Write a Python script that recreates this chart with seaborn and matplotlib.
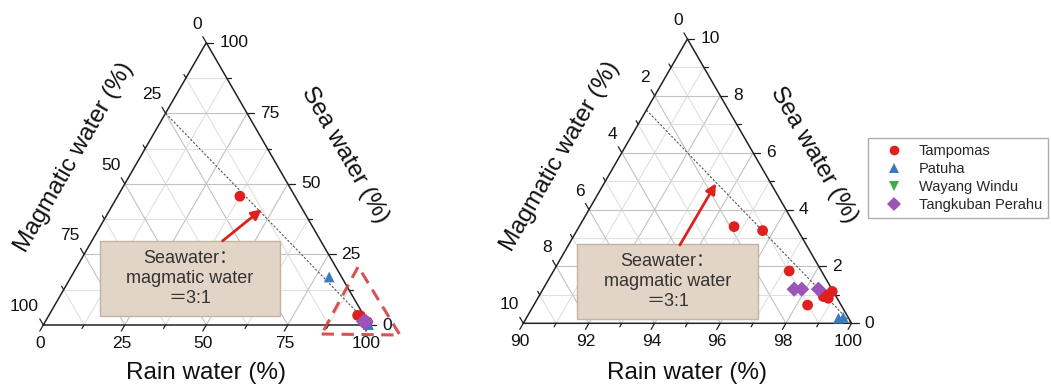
import numpy as np
import pandas as pd
import matplotlib
matplotlib.use("Agg")
import matplotlib.pyplot as plt
import seaborn as sns
from matplotlib.lines import Line2D
from matplotlib.patches import Rectangle, Polygon

sns.set_theme(style="white")
plt.rcParams["font.family"] = ["Liberation Sans", "Noto Sans CJK SC", "DejaVu Sans"]

# ---------------- data ----------------
groups = ["Tampomas", "Patuha", "Wayang Windu", "Tangkuban Perahu"]
site = (["Tampomas"] * 9 + ["Patuha"] * 3 + ["Tangkuban Perahu"] * 3)
rain_water = [37.5, 94.72, 95.66, 97.18, 98.85, 98.67, 98.85, 98.72, 98.34,
              79.2, 99.51, 99.64,
              97.65, 97.88, 98.39]
sea_water = [45.6, 3.40, 3.26, 1.84, 1.12, 0.94, 0.88, 1.00, 0.64,
             17.0, 0.18, 0.21,
             1.20, 1.20, 1.20]
magmatic_water = [16.9, 1.88, 1.08, 0.98, 0.03, 0.39, 0.27, 0.28, 1.02,
                  3.8, 0.31, 0.15,
                  1.15, 0.92, 0.41]

colors = {"Tampomas": "#e0201e", "Patuha": "#3a7bbf",
          "Wayang Windu": "#3cae46", "Tangkuban Perahu": "#9b55b8"}
markers = {"Tampomas": "o", "Patuha": "^", "Wayang Windu": "v",
           "Tangkuban Perahu": "D"}

df = pd.DataFrame({"site": site, "rain": rain_water, "sea": sea_water,
                   "magmatic": magmatic_water})

SQ = np.sqrt(3) / 2
W, H = 1051, 388
fig = plt.figure(figsize=(W / 100, H / 100), dpi=100)
PT = 0.72  # px -> points


def nxy(r, s):
    return r + s / 2.0, s * SQ


def panel(ax, r0, span, nsub, major_every, fmt_vals, titles_pos, box, arrow):
    # grid
    for i in range(1, nsub):
        f = i / nsub
        major = (i % major_every == 0)
        col = "#c2c2c2" if major else "#e0e0e0"
        segs = [((f, 0), (f, 1 - f)), ((0, f), (1 - f, f)), ((1 - f, 0), (0, 1 - f))]
        for (ra, sa), (rb, sb) in segs:
            xa, ya = nxy(ra, sa)
            xb, yb = nxy(rb, sb)
            ax.plot([xa, xb], [ya, yb], color=col, lw=0.8, zorder=1)
    # frame
    tri = np.array([nxy(0, 0), nxy(1, 0), nxy(0, 1), nxy(0, 0)])
    ax.plot(tri[:, 0], tri[:, 1], color="#222222", lw=1.1, zorder=4,
            solid_joinstyle="miter")
    # ticks and labels
    scale = 326.0
    for i in range(0, nsub + 1):
        f = i / nsub
        major = (i % major_every == 0)
        L = (7 if major else 4) / scale
        x, y = nxy(f, 0)
        ax.plot([x, x - 0.5 * L], [y, y - SQ * L], color="#222222", lw=0.9, zorder=4)
        x2, y2 = nxy(1 - f, f)
        ax.plot([x2, x2 + L], [y2, y2], color="#222222", lw=0.9, zorder=4)
        x3, y3 = nxy(0, 1 - f)
        ax.plot([x3, x3 - 0.5 * L], [y3, y3 + SQ * L], color="#222222", lw=0.9, zorder=4)
        if major:
            ax.annotate(fmt_vals(r0 + f * span), (x, y), xytext=(-3 * PT, -18 * PT),
                        textcoords="offset points", ha="center", va="center",
                        fontsize=12.5, color="#111111", annotation_clip=False)
            ax.annotate(fmt_vals(f * span), (x2, y2), xytext=(13 * PT, 0),
                        textcoords="offset points", ha="left", va="center",
                        fontsize=12.5, color="#111111", annotation_clip=False)
            ax.annotate(fmt_vals(f * span), (x3, y3), xytext=(-4.5 * PT, 18.5 * PT),
                        textcoords="offset points", ha="right", va="center",
                        fontsize=12.5, color="#111111", annotation_clip=False)
    # 3:1 line (sea : magmatic)
    xa, ya = nxy(0, 0.75)
    xb, yb = nxy(1, 0)
    ax.plot([xa, xb], [ya, yb], color="#555555", lw=0.8, ls=(0, (2, 1.6)), zorder=2)

    # data
    sub = df[(df.rain >= r0) & (df.sea <= r0 + span) & (df.magmatic <= span)].copy()
    sub["r"] = (sub.rain - r0) / span
    sub["s"] = sub.sea / span
    sub["x"] = sub.r + sub.s / 2
    sub["y"] = sub.s * SQ
    sns.scatterplot(data=sub, x="x", y="y", hue="site", style="site",
                    palette=colors, markers=markers, s=60, linewidth=0,
                    legend=False, ax=ax, zorder=5)

    # titles
    (rx, ry), (mx, my), (sx, sy) = titles_pos
    ax.text(rx, ry, "Rain water (%)", fontsize=17.5, ha="center", va="center", color="#111111")
    ax.text(mx, my, "Magmatic water (%)", fontsize=17.5, ha="center", va="center",
            rotation=60, rotation_mode="anchor", color="#111111")
    ax.text(sx, sy, "Sea water (%)", fontsize=17.5, ha="center", va="center",
            rotation=-60, rotation_mode="anchor", color="#111111")

    # annotation box
    x0, y0, x1, y1 = box
    ax.add_patch(Rectangle((x0, y0), x1 - x0, y1 - y0, facecolor="#e2d5c7",
                           edgecolor="#c3b3a3", lw=1.0, zorder=6))
    ax.text((x0 + x1) / 2, (y0 + y1) / 2, "Seawater：\nmagmatic water\n＝3:1",
            fontsize=13, ha="center", va="center", linespacing=1.2,
            color="#333333", zorder=7)
    (tx, ty), (hx, hy) = arrow
    ax.annotate("", xy=(hx, hy), xytext=(tx, ty),
                arrowprops=dict(arrowstyle="-|>", color="#e0201e", lw=2.0,
                                mutation_scale=15, shrinkA=0, shrinkB=0),
                zorder=7)
    ax.axis("off")


# left panel
axL = fig.add_axes([0, 0, 440 / W, 1])
axL.set_xlim(-43.3 / 326, (440 - 43.3) / 326)
axL.set_ylim(-63 / 326, (388 - 63) / 326)
panel(axL, 0, 100, 8, 2, lambda v: f"{v:.0f}",
      [(0.5, -0.147), (0.094, 0.515), (0.925, 0.521)],
      (0.174, 0.0276, 0.726, 0.258),
      ((0.550, 0.258), (0.670, 0.355)))
axL.add_patch(Polygon([(0.854, -0.0276), (1.094, -0.0307), (0.966, 0.179)],
                      closed=True, fill=False, edgecolor="#d04040", lw=2.2,
                      ls=(0, (4, 2.5)), alpha=0.9, zorder=8, clip_on=False))

# right panel
axR = fig.add_axes([440 / W, 0, 420 / W, 1])
axR.set_xlim((440 - 523.3) / 328.3, (860 - 523.3) / 328.3)
axR.set_ylim(-64.7 / 328.3, (388 - 64.7) / 328.3)
panel(axR, 90, 10, 10, 2, lambda v: f"{v:.0f}",
      [(0.5, -0.151), (0.114, 0.510), (0.885, 0.513)],
      (0.1636, 0.0131, 0.7149, 0.2415),
      ((0.477, 0.2385), (0.587, 0.4264)))

# legend
handles = [Line2D([], [], ls="none", marker=markers[g], color=colors[g],
                  markersize=7, markeredgewidth=0) for g in groups]
fig.legend(handles, groups, loc="upper left",
           bbox_to_anchor=(868 / W, 1 - 138 / H), frameon=True, fancybox=False,
           edgecolor="#999999", fontsize=10.5, handlelength=2.8,
           handletextpad=0.3, labelspacing=0.28, borderpad=0.4,
           borderaxespad=0)

fig.savefig("out.png", dpi=100)
